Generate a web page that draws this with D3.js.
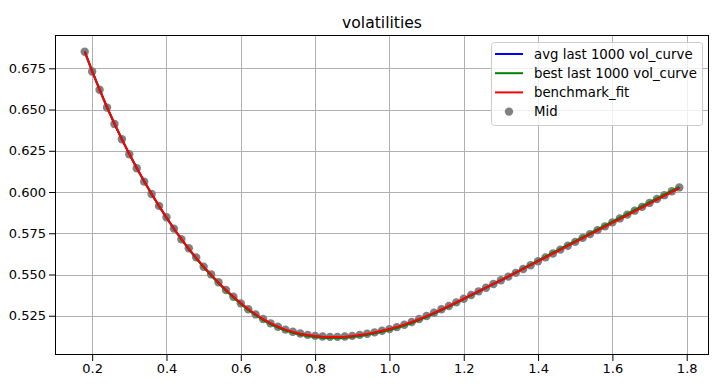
<html>
<head>
    <script src="https://d3js.org/d3.v7.min.js" charset="utf-8"></script>
    <style>
        body { margin: 0; background: #fff; }
        text { font-family: "DejaVu Sans", sans-serif; }
    </style>
</head>

<body>
    <script type="text/javascript">
        var width = 726;
        var height = 387;

        var margin = {
            top: 35,
            right: 17,
            bottom: 32,
            left: 55
        };

        // strikes (x) shared by every series
        var strikes = [
            0.18, 0.20, 0.22, 0.24, 0.26, 0.28, 0.30, 0.32, 0.34, 0.36,
            0.38, 0.40, 0.42, 0.44, 0.46, 0.48, 0.50, 0.52, 0.54, 0.56,
            0.58, 0.60, 0.62, 0.64, 0.66, 0.68, 0.70, 0.72, 0.74, 0.76,
            0.78, 0.80, 0.82, 0.84, 0.86, 0.88, 0.90, 0.92, 0.94, 0.96,
            0.98, 1.00, 1.02, 1.04, 1.06, 1.08, 1.10, 1.12, 1.14, 1.16,
            1.18, 1.20, 1.22, 1.24, 1.26, 1.28, 1.30, 1.32, 1.34, 1.36,
            1.38, 1.40, 1.42, 1.44, 1.46, 1.48, 1.50, 1.52, 1.54, 1.56,
            1.58, 1.60, 1.62, 1.64, 1.66, 1.68, 1.70, 1.72, 1.74, 1.76,
            1.78
        ];

        // market mid vols (grey dots)
        var mid = [
            0.6850, 0.6731, 0.6620, 0.6512, 0.6413, 0.6320, 0.6229, 0.6144, 0.6063, 0.5988,
            0.5916, 0.5847, 0.5778, 0.5714, 0.5659, 0.5604, 0.5547, 0.5501, 0.5453, 0.5406,
            0.5365, 0.5325, 0.5289, 0.5258, 0.5230, 0.5204, 0.5183, 0.5166, 0.5153, 0.5142,
            0.5134, 0.5128, 0.5124, 0.5122, 0.5122, 0.5124, 0.5128, 0.5134, 0.5141, 0.5149,
            0.5159, 0.5169, 0.5181, 0.5195, 0.5212, 0.5230, 0.5248, 0.5268, 0.5289, 0.5309,
            0.5331, 0.5353, 0.5376, 0.5398, 0.5420, 0.5442, 0.5465, 0.5487, 0.5510, 0.5533,
            0.5556, 0.5580, 0.5604, 0.5627, 0.5651, 0.5674, 0.5698, 0.5722, 0.5745, 0.5769,
            0.5792, 0.5816, 0.5840, 0.5863, 0.5887, 0.5910, 0.5934, 0.5958, 0.5981, 0.6005,
            0.6028
        ];

        var avgCurve = [
            0.6851, 0.6733, 0.6621, 0.6514, 0.6414, 0.6320, 0.6230, 0.6146, 0.6065, 0.5988,
            0.5915, 0.5845, 0.5778, 0.5715, 0.5655, 0.5599, 0.5546, 0.5497, 0.5450, 0.5405,
            0.5363, 0.5324, 0.5288, 0.5256, 0.5227, 0.5202, 0.5181, 0.5163, 0.5149, 0.5138,
            0.5130, 0.5124, 0.5120, 0.5118, 0.5118, 0.5120, 0.5124, 0.5130, 0.5137, 0.5146,
            0.5156, 0.5167, 0.5179, 0.5193, 0.5209, 0.5226, 0.5245, 0.5265, 0.5286, 0.5307,
            0.5329, 0.5352, 0.5375, 0.5397, 0.5420, 0.5443, 0.5465, 0.5488, 0.5512, 0.5535,
            0.5559, 0.5582, 0.5605, 0.5629, 0.5653, 0.5676, 0.5699, 0.5723, 0.5747, 0.5770,
            0.5793, 0.5817, 0.5840, 0.5863, 0.5887, 0.5910, 0.5934, 0.5957, 0.5981, 0.6004,
            0.6027
        ];

        var bestCurve = [
            0.6853, 0.6734, 0.6622, 0.6515, 0.6414, 0.6320, 0.6230, 0.6145, 0.6064, 0.5987,
            0.5914, 0.5844, 0.5776, 0.5713, 0.5653, 0.5597, 0.5544, 0.5494, 0.5447, 0.5402,
            0.5360, 0.5321, 0.5285, 0.5253, 0.5224, 0.5199, 0.5178, 0.5160, 0.5146, 0.5135,
            0.5127, 0.5121, 0.5117, 0.5115, 0.5115, 0.5117, 0.5121, 0.5127, 0.5134, 0.5143,
            0.5153, 0.5164, 0.5176, 0.5190, 0.5206, 0.5224, 0.5243, 0.5263, 0.5284, 0.5306,
            0.5328, 0.5351, 0.5374, 0.5397, 0.5420, 0.5443, 0.5466, 0.5489, 0.5513, 0.5537,
            0.5561, 0.5584, 0.5608, 0.5632, 0.5656, 0.5680, 0.5703, 0.5727, 0.5751, 0.5774,
            0.5798, 0.5821, 0.5845, 0.5868, 0.5891, 0.5915, 0.5938, 0.5962, 0.5985, 0.6008,
            0.6031
        ];

        var benchmarkFit = [
            0.6850, 0.6732, 0.6620, 0.6514, 0.6414, 0.6320, 0.6231, 0.6146, 0.6065, 0.5989,
            0.5916, 0.5846, 0.5779, 0.5716, 0.5657, 0.5601, 0.5548, 0.5499, 0.5452, 0.5408,
            0.5366, 0.5327, 0.5291, 0.5259, 0.5230, 0.5205, 0.5184, 0.5166, 0.5152, 0.5141,
            0.5133, 0.5127, 0.5123, 0.5121, 0.5121, 0.5123, 0.5127, 0.5133, 0.5140, 0.5149,
            0.5159, 0.5170, 0.5182, 0.5196, 0.5212, 0.5229, 0.5248, 0.5267, 0.5288, 0.5309,
            0.5331, 0.5353, 0.5376, 0.5398, 0.5421, 0.5443, 0.5465, 0.5488, 0.5511, 0.5534,
            0.5557, 0.5580, 0.5603, 0.5626, 0.5650, 0.5673, 0.5696, 0.5719, 0.5743, 0.5766,
            0.5789, 0.5813, 0.5836, 0.5859, 0.5883, 0.5906, 0.5930, 0.5953, 0.5977, 0.6000,
            0.6023
        ];

        var xTicks = [0.2, 0.4, 0.6, 0.8, 1.0, 1.2, 1.4, 1.6, 1.8];
        var yTicks = [0.525, 0.550, 0.575, 0.600, 0.625, 0.650, 0.675];

        var seriesNames = ["avg last 1000 vol_curve", "best last 1000 vol_curve", "benchmark_fit", "Mid"];
        var seriesColors = ["#0000ff", "#008000", "#ff0000", "#808080"];

        const svg = d3.select("body").append("svg")
            .attr("width", width)
            .attr("height", height);

        var xScale = d3.scaleLinear()
            .domain([0.10, 1.86])
            .range([margin.left, width - margin.right]);

        var yScale = d3.scaleLinear()
            .domain([0.5012, 0.6952])
            .range([height - margin.bottom, margin.top]);

        // grid
        var grid = svg.append("g").attr("class", "grid");
        grid.selectAll("line.gx")
            .data(xTicks)
            .join("line")
                .attr("class", "gx")
                .attr("x1", d => Math.round(xScale(d)) + 0.5)
                .attr("x2", d => Math.round(xScale(d)) + 0.5)
                .attr("y1", margin.top)
                .attr("y2", height - margin.bottom)
                .attr("stroke", "#b0b0b0")
                .attr("stroke-width", 1);
        grid.selectAll("line.gy")
            .data(yTicks)
            .join("line")
                .attr("class", "gy")
                .attr("y1", d => Math.round(yScale(d)) + 0.5)
                .attr("y2", d => Math.round(yScale(d)) + 0.5)
                .attr("x1", margin.left)
                .attr("x2", width - margin.right)
                .attr("stroke", "#b0b0b0")
                .attr("stroke-width", 1);

        var g = svg.append("g").attr("class", "container");

        // Mid scatter sits under the curves
        g.selectAll("circle")
            .data(strikes)
            .join("circle")
                .attr("cx", (d) => xScale(d))
                .attr("cy", (d, i) => yScale(mid[i]))
                .attr("r", 4.2)
                .style("fill", seriesColors[3]);

        var line = d3.line()
            .x((d) => xScale(d[0]))
            .y((d) => yScale(d[1]));

        [avgCurve, bestCurve, benchmarkFit].forEach(function (vals, k) {
            g.append("path")
                .datum(strikes.map((s, i) => [s, vals[i]]))
                .attr("fill", "none")
                .attr("stroke", seriesColors[k])
                .attr("stroke-width", 2)
                .attr("stroke-linejoin", "round")
                .attr("d", line);
        });

        // axes
        var xAxis = svg.append("g")
            .attr("transform", "translate(0," + (height - margin.bottom) + ")")
            .call(d3.axisBottom(xScale).tickValues(xTicks).tickFormat(d3.format(".1f")).tickSizeOuter(0).tickSize(6).tickPadding(3));
        var yAxis = svg.append("g")
            .attr("transform", "translate(" + margin.left + ",0)")
            .call(d3.axisLeft(yScale).tickValues(yTicks).tickFormat(d3.format(".3f")).tickSizeOuter(0).tickSize(6).tickPadding(3));

        [xAxis, yAxis].forEach(function (ax) {
            ax.select(".domain").remove();
            ax.selectAll("text")
                .attr("fill", "#000")
                .style("font-size", "13px")
                .style("font-family", "'DejaVu Sans', sans-serif");
            ax.selectAll("line").attr("stroke", "#000");
        });

        // frame
        svg.append("rect")
            .attr("x", margin.left + 0.5)
            .attr("y", margin.top + 0.5)
            .attr("width", width - margin.left - margin.right - 1)
            .attr("height", height - margin.top - margin.bottom - 1)
            .attr("fill", "none")
            .attr("stroke", "#000")
            .attr("stroke-width", 1);

        svg.append("text")
            .attr("x", (margin.left + width - margin.right) / 2)
            .attr("y", 28)
            .attr("text-anchor", "middle")
            .style("font-size", "15.6px")
            .text("volatilities");

        // legend
        var legend = svg.append("g").attr("transform", "translate(491,42)");
        legend.append("rect")
            .attr("x", 0.5)
            .attr("y", 0.5)
            .attr("width", 211)
            .attr("height", 83)
            .attr("rx", 3)
            .attr("fill", "#fff")
            .attr("fill-opacity", 0.8)
            .attr("stroke", "#cccccc");

        var rows = legend.selectAll("g.row")
            .data(seriesNames)
            .join("g")
                .attr("class", "row")
                .attr("transform", (d, i) => "translate(0," + (12 + i * 19.2) + ")");

        rows.filter((d, i) => i < 3).append("line")
            .attr("x1", 4)
            .attr("x2", 32)
            .attr("y1", 0)
            .attr("y2", 0)
            .attr("stroke", (d, i) => seriesColors[i])
            .attr("stroke-width", 2);

        rows.filter((d, i) => i === 3).append("circle")
            .attr("cx", 18)
            .attr("cy", 0)
            .attr("r", 4.2)
            .attr("fill", seriesColors[3]);

        rows.append("text")
            .attr("x", 43)
            .attr("y", 4.6)
            .style("font-size", "13.3px")
            .text(d => d);
    </script>
</body>
</html>
